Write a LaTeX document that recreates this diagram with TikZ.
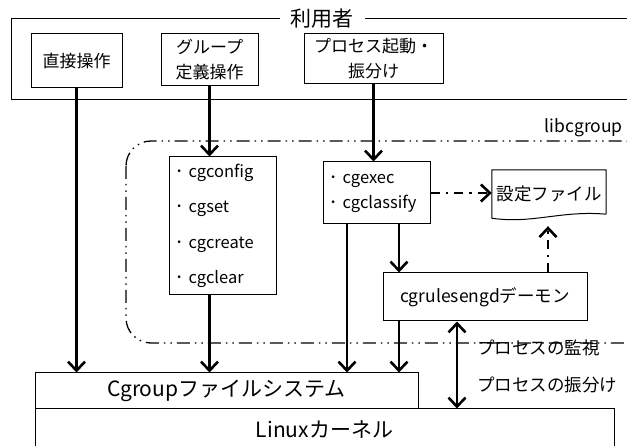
\documentclass[tikz,border=0pt]{standalone}
\usepackage{fontspec}
\setmainfont{Noto Sans CJK JP}
\usetikzlibrary{arrows.meta,calc}
\begin{document}
\begin{tikzpicture}[x=1pt,y=-1pt,
  thin/.style={line width=1pt},
  box/.style={draw, thin, inner sep=0pt, font=\fontsize{17}{25}\selectfont, align=center},
  listbox/.style={draw, thin, inner xsep=6pt, inner ysep=0pt, align=left},
  arr/.style={line width=2.6pt, -{Straight Barb[length=9pt,width=17pt]}},
  darr/.style={line width=2.6pt, {Straight Barb[length=9pt,width=17pt]}-{Straight Barb[length=9pt,width=17pt]}},
  dd/.style={line width=1.3pt, dash pattern=on 13pt off 5pt on 1.5pt off 5pt on 1.5pt off 5pt},
  da/.style={line width=2.6pt, dash pattern=on 9pt off 6pt on 2.5pt off 6pt, -{Straight Barb[length=9pt,width=17pt]}},
  lbl/.style={font=\fontsize{17.5}{20}\selectfont, inner sep=0pt}
]
\useasboundingbox (0,0) rectangle (627,446);

% user frame
\draw[thin] (650,19) -- (11,19) -- (11,100) -- (650,100);
\node[lbl, font=\fontsize{21}{24}\selectfont, fill=white, inner xsep=11pt, inner ysep=2pt] (user) at (322,19) {利用者};

\node[box, minimum width=91pt, minimum height=54pt] (direct) at (76.5,61) {直接操作};
\node[box, minimum width=97pt, minimum height=52pt] (group) at (209.5,60) {グループ\\定義操作};
\node[box, minimum width=139pt, minimum height=50pt] (proc) at (373.5,59) {プロセス起動・\\振分け};

% libcgroup frame
\draw[dd, rounded corners=25pt] (126,141) rectangle (650,343);
\node[lbl, anchor=south east] (lib) at (623,137) {libcgroup};

\node[listbox, text width=95pt, minimum height=138pt, font=\fontsize{16.5}{35.3}\selectfont] (cgconf) at (222.5,226)
  {･ cgconfig\\･ cgset\\･ cgcreate\\･ cgclear};
\node[listbox, text width=95pt, minimum height=62pt, font=\fontsize{16.5}{25}\selectfont] (cgexec) at (376.5,193)
  {･ cgexec\\･ cgclassify};

\node[lbl, minimum width=114pt, minimum height=48pt] (conf) at (549,194) {設定ファイル};
\draw[thin] ($(conf.south east)+(0,-4)$) -- (conf.north east) -- (conf.north west) -- (conf.south west)
  .. controls ($(conf.south west)+(40,6)$) and ($(conf.south east)+(-45,-8)$) .. ($(conf.south east)+(0,-4)$);

\node[box, font=\fontsize{17.5}{20}\selectfont, minimum width=204pt, minimum height=48pt] (rule) at (485,297) {cgrulesengdデーモン};

\node[box, font=\fontsize{21}{24}\selectfont, minimum width=579pt, minimum height=42pt] (linux) at (324.5,430) {Linuxカーネル};
\node[box, font=\fontsize{21}{24}\selectfont, minimum width=383pt, minimum height=36pt] (cgfs) at (226.5,391) {Cgroupファイルシステム};

\node[lbl, anchor=west] (mon) at (477,348) {プロセスの監視};
\node[lbl, anchor=west] (dist) at (477,385) {プロセスの振分け};

\coordinate (xa) at (347,0);
\coordinate (xb) at (399,0);
\coordinate (xc) at (457,0);
\coordinate (xd) at (548,0);

\draw[arr] (direct.south) -- (direct.south |- cgfs.north);
\draw[arr] (group.south) -- (group.south |- cgconf.north);
\draw[arr] (cgconf.south -| group.south) -- (group.south |- cgfs.north);
\draw[arr] (proc.south) -- (proc.south |- cgexec.north);
\draw[arr] (cgexec.south -| xa) -- (xa |- cgfs.north);
\draw[arr] (cgexec.south -| xb) -- (xb |- rule.north);
\draw[arr] (rule.south -| xb) -- (xb |- cgfs.north);
\draw[darr] (rule.south -| xc) -- (xc |- linux.north);
\draw[da] (cgexec.east) -- (cgexec.east -| conf.west);
\draw[da, shorten >=8pt] (rule.north -| xd) -- (xd |- conf.south);
\end{tikzpicture}
\end{document}
